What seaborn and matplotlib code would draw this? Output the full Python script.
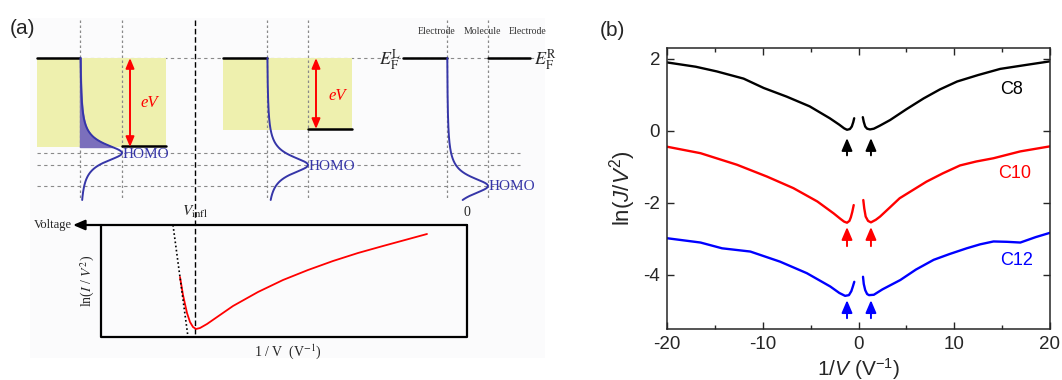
import matplotlib.pyplot as plt
import pandas as pd
import seaborn as sns
from matplotlib.patches import Rectangle

sns.set_style("ticks")
plt.rcParams["font.family"] = ["Liberation Sans", "DejaVu Sans"]
plt.rcParams["mathtext.fontset"] = "custom"
plt.rcParams["mathtext.rm"] = "Liberation Sans"
plt.rcParams["mathtext.it"] = "Liberation Sans:italic"
plt.rcParams["axes.unicode_minus"] = False

# ---- panel (b) data: ln(J/V^2) vs 1/V, left (V<0) and right (V>0) branches
c8_left_x = [-20, -17, -14.8, -12, -9.9, -7.5, -5.1, -3, -2, -1.5, -1.2, -0.9, -0.7, -0.55, -0.45]
c8_left_y = [1.9, 1.78, 1.65, 1.45, 1.19, 0.95, 0.68, 0.35, 0.17, 0.07, 0.03, 0.05, 0.12, 0.24, 0.35]
c8_right_x = [0.45, 0.55, 0.7, 0.9, 1.2, 1.6, 2.2, 3.3, 5, 6.8, 8.5, 10.3, 12.5, 14.8, 17.5, 20]
c8_right_y = [0.38, 0.25, 0.12, 0.06, 0.04, 0.06, 0.14, 0.3, 0.6, 0.9, 1.15, 1.37, 1.55, 1.72, 1.83, 1.93]

c10_left_x = [-20, -16.5, -12.7, -9.55, -6.8, -4.3, -2.6, -1.9, -1.5, -1.2, -0.95, -0.8, -0.65, -0.5]
c10_left_y = [-0.44, -0.62, -0.94, -1.27, -1.59, -1.96, -2.29, -2.44, -2.52, -2.55, -2.5, -2.4, -2.25, -2.06]
c10_right_x = [0.5, 0.6, 0.75, 1.0, 1.3, 1.8, 2.25, 3.3, 4.3, 5.7, 7.1, 8.8, 10.6, 12.3, 14.1, 16.9, 20]
c10_right_y = [-1.92, -2.15, -2.38, -2.5, -2.54, -2.47, -2.38, -2.12, -1.87, -1.64, -1.41, -1.18, -0.96, -0.85, -0.76, -0.57, -0.43]

c12_left_x = [-20, -16.5, -14.25, -11.3, -8.2, -5.4, -2.95, -2.0, -1.4, -1.0, -0.75, -0.6, -0.44]
c12_left_y = [-2.98, -3.1, -3.26, -3.35, -3.63, -3.95, -4.32, -4.5, -4.58, -4.56, -4.45, -4.33, -4.19]
c12_right_x = [0.47, 0.55, 0.7, 0.9, 1.1, 1.6, 2.5, 4.37, 6, 7.85, 9.5, 11.3, 12.7, 14.1, 15.5, 16.9, 18.5, 20]
c12_right_y = [-4.05, -4.25, -4.42, -4.53, -4.56, -4.55, -4.4, -4.14, -3.85, -3.58, -3.42, -3.26, -3.15, -3.07, -3.08, -3.1, -2.95, -2.83]

series = ["C8", "C10", "C12"]
series_colors = ["black", "red", "blue"]
label_x = [16, 16.3, 16.5]
label_y = [1.14, -1.17, -3.6]
arrow_x = [-1.2, 1.3]
arrow_head_y = [-0.2, -2.67, -4.7]
arrow_tail_y = [-0.68, -3.2, -5.2]

rows = []
branches = {
    "C8": [(c8_left_x, c8_left_y), (c8_right_x, c8_right_y)],
    "C10": [(c10_left_x, c10_left_y), (c10_right_x, c10_right_y)],
    "C12": [(c12_left_x, c12_left_y), (c12_right_x, c12_right_y)],
}
for name, parts in branches.items():
    for b, (xs, ys) in enumerate(parts):
        for x, y in zip(xs, ys):
            rows.append({"x": x, "y": y, "series": name, "branch": b})
df = pd.DataFrame(rows)

fig = plt.figure(figsize=(10.62, 3.8), dpi=100)

# ---- panel (a): schematic, drawn in pixel coordinates
ax_a = fig.add_axes([0, 0, 590 / 1062, 1])
ax_a.set_xlim(0, 590)
ax_a.set_ylim(380, 0)
ax_a.axis("off")

serif = ["Liberation Serif", "DejaVu Serif"]
grey = "#8a8a8a"
blue = "#3636a8"

ax_a.add_patch(Rectangle((30, 18), 515, 340, facecolor="#fbfbfc", edgecolor="none", zorder=0))

# horizontal guide lines
ax_a.plot([37, 545], [58, 58], ls=(0, (3, 3)), color=grey, lw=0.8, zorder=1)
for yy in [153, 165, 186]:
    ax_a.plot([37, 520], [yy, yy], ls=(0, (3, 3)), color=grey, lw=0.8, zorder=1)

# yellow bias windows
ax_a.add_patch(Rectangle((37, 58), 129, 89, facecolor="#eef0ae", edgecolor="none", zorder=2))
ax_a.add_patch(Rectangle((223, 58), 129, 72, facecolor="#eef0ae", edgecolor="none", zorder=2))

# vertical guide lines
for xx in [80, 122, 267, 308, 447, 488]:
    ax_a.plot([xx, xx], [20, 200], ls=(0, (2, 2)), color=grey, lw=0.9, zorder=3)
ax_a.plot([195, 195], [20, 337], ls=(0, (4, 2)), color="black", lw=1.0, zorder=3)

# electrode Fermi levels
for (x0, x1, yy) in [(37, 80, 58), (122, 166, 146), (223, 267, 58), (308, 352, 129),
                     (403, 447, 58), (488, 530, 58)]:
    ax_a.plot([x0, x1], [yy, yy], color="black", lw=1.8, zorder=4)

# Lorentzian HOMO densities of states
def dos(base, peak, y0, gamma=11.0):
    ys = [58 + i * 0.5 for i in range(285)]
    xs = [base + (peak - base) * gamma ** 2 / ((y - y0) ** 2 + gamma ** 2) for y in ys]
    return xs, ys

for base, peak, y0 in [(80, 122, 153), (267, 308, 165), (447, 488, 186)]:
    xs, ys = dos(base, peak, y0)
    ax_a.plot(xs, ys, color=blue, lw=1.4, zorder=5)
    ax_a.text(peak + 1, y0 + 1, "HOMO", color=blue, fontsize=11, family=serif,
              ha="left", va="center", zorder=6)
xs, ys = dos(80, 122, 153)
fx = [x for x, y in zip(xs, ys) if y <= 147]
fy = [y for y in ys if y <= 147]
ax_a.fill_betweenx(fy, 80, fx, color="#7b6fbc", zorder=4)

# eV arrows
for ax0, y1, tx, ty in [(130, 147, 140, 103), (316, 129, 328, 96)]:
    ax_a.annotate("", xy=(ax0, 58), xytext=(ax0, y1),
                  arrowprops=dict(arrowstyle="<|-|>,head_length=0.6,head_width=0.25",
                                  color="red", lw=1.4, shrinkA=0, shrinkB=0), zorder=6)
    ax_a.text(tx, ty, "eV", color="red", fontsize=12, family=serif, style="italic",
              ha="left", va="center")

ax_a.text(437, 32, "Electrode", fontsize=7, family=serif, ha="center", va="center", color="#333333")
ax_a.text(482, 32, "Molecule", fontsize=7, family=serif, ha="center", va="center", color="#333333")
ax_a.text(528, 32, "Electrode", fontsize=7, family=serif, ha="center", va="center", color="#333333")
ax_a.text(401, 60, r"$E_\mathrm{F}^\mathrm{L}$", fontsize=13, ha="right", va="center",
          math_fontfamily="stix")
ax_a.text(534, 60, r"$E_\mathrm{F}^\mathrm{R}$", fontsize=13, ha="left", va="center",
          math_fontfamily="stix")

# lower schematic plot
ax_a.plot([101, 101, 467, 467], [225, 337, 337, 225], color="black", lw=1.6, zorder=4)
ax_a.annotate("", xy=(73, 225), xytext=(467, 225),
              arrowprops=dict(arrowstyle="-|>,head_length=0.7,head_width=0.3",
                              color="black", lw=1.6, shrinkA=0, shrinkB=0), zorder=4)
ax_a.text(72, 225, "Voltage", fontsize=9, family=serif, ha="right", va="center")
ax_a.text(195, 212, r"$V_\mathrm{infl}$", fontsize=11, ha="center", va="center",
          math_fontfamily="stix")
ax_a.text(467, 212, "0", fontsize=10, family=serif, ha="center", va="center")
ax_a.text(88, 281, r"ln($I$ / $V^2$)", fontsize=10, family=serif, rotation=90,
          ha="center", va="center", math_fontfamily="stix")
ax_a.text(288, 352, r"1 / V  (V$^{-1}$)", fontsize=10, family=serif, ha="center",
          va="center", math_fontfamily="stix")
curve_x = [180, 183, 187, 190, 193, 196, 200, 207, 220, 233, 258, 283, 308, 333, 358, 383, 405, 427]
curve_y = [277, 295, 313, 322, 327, 329, 328, 324, 315, 306, 292, 280, 270, 261, 253, 246, 240, 234]
ax_a.plot(curve_x, curve_y, color="red", lw=1.3, zorder=5)
ax_a.plot([173, 188], [225, 337], color="black", ls=(0, (1, 1.5)), lw=1.2, zorder=5)

ax_a.text(10, 28, "(a)", fontsize=15, ha="left", va="center")

# ---- panel (b)
ax = fig.add_axes([667 / 1062, 1 - 329 / 380, 383 / 1062, 281 / 380])
palette = dict(zip(series, series_colors))
for name in series:
    for b in [0, 1]:
        sub = df[(df.series == name) & (df.branch == b)]
        sns.lineplot(data=sub, x="x", y="y", color=palette[name], lw=1.7,
                     estimator=None, sort=False, ax=ax)

for name, c, lx, ly, hy, ty in zip(series, series_colors, label_x, label_y,
                                    arrow_head_y, arrow_tail_y):
    ax.text(lx, ly, name, color=c, fontsize=13, ha="center", va="center")
    for axx in arrow_x:
        ax.annotate("", xy=(axx, hy), xytext=(axx, ty),
                    arrowprops=dict(arrowstyle="-|>,head_length=0.75,head_width=0.32",
                                    color=c, lw=1.4, shrinkA=0, shrinkB=0))

ax.set_xlim(-20, 20)
ax.set_ylim(-5.5, 2.3)
ax.set_xticks([-20, -10, 0, 10, 20])
ax.set_xticks([-15, -5, 5, 15], minor=True)
ax.set_yticks([2, 0, -2, -4])
ax.tick_params(which="both", direction="in", top=True, right=True, labelsize=13.5, pad=5)
ax.tick_params(which="major", length=5, width=1)
ax.tick_params(which="minor", length=3, width=1)
for s in ax.spines.values():
    s.set_linewidth(1.1)
ax.set_xlabel(r"1/$V$ (V$^{-1}$)", fontsize=15, labelpad=2)
ax.set_ylabel(r"ln($J$/$V^2$)", fontsize=16, labelpad=4)

fig.text(600 / 1062, 1 - 30 / 380, "(b)", fontsize=15, ha="left", va="center")

fig.savefig("out.png", dpi=100)
